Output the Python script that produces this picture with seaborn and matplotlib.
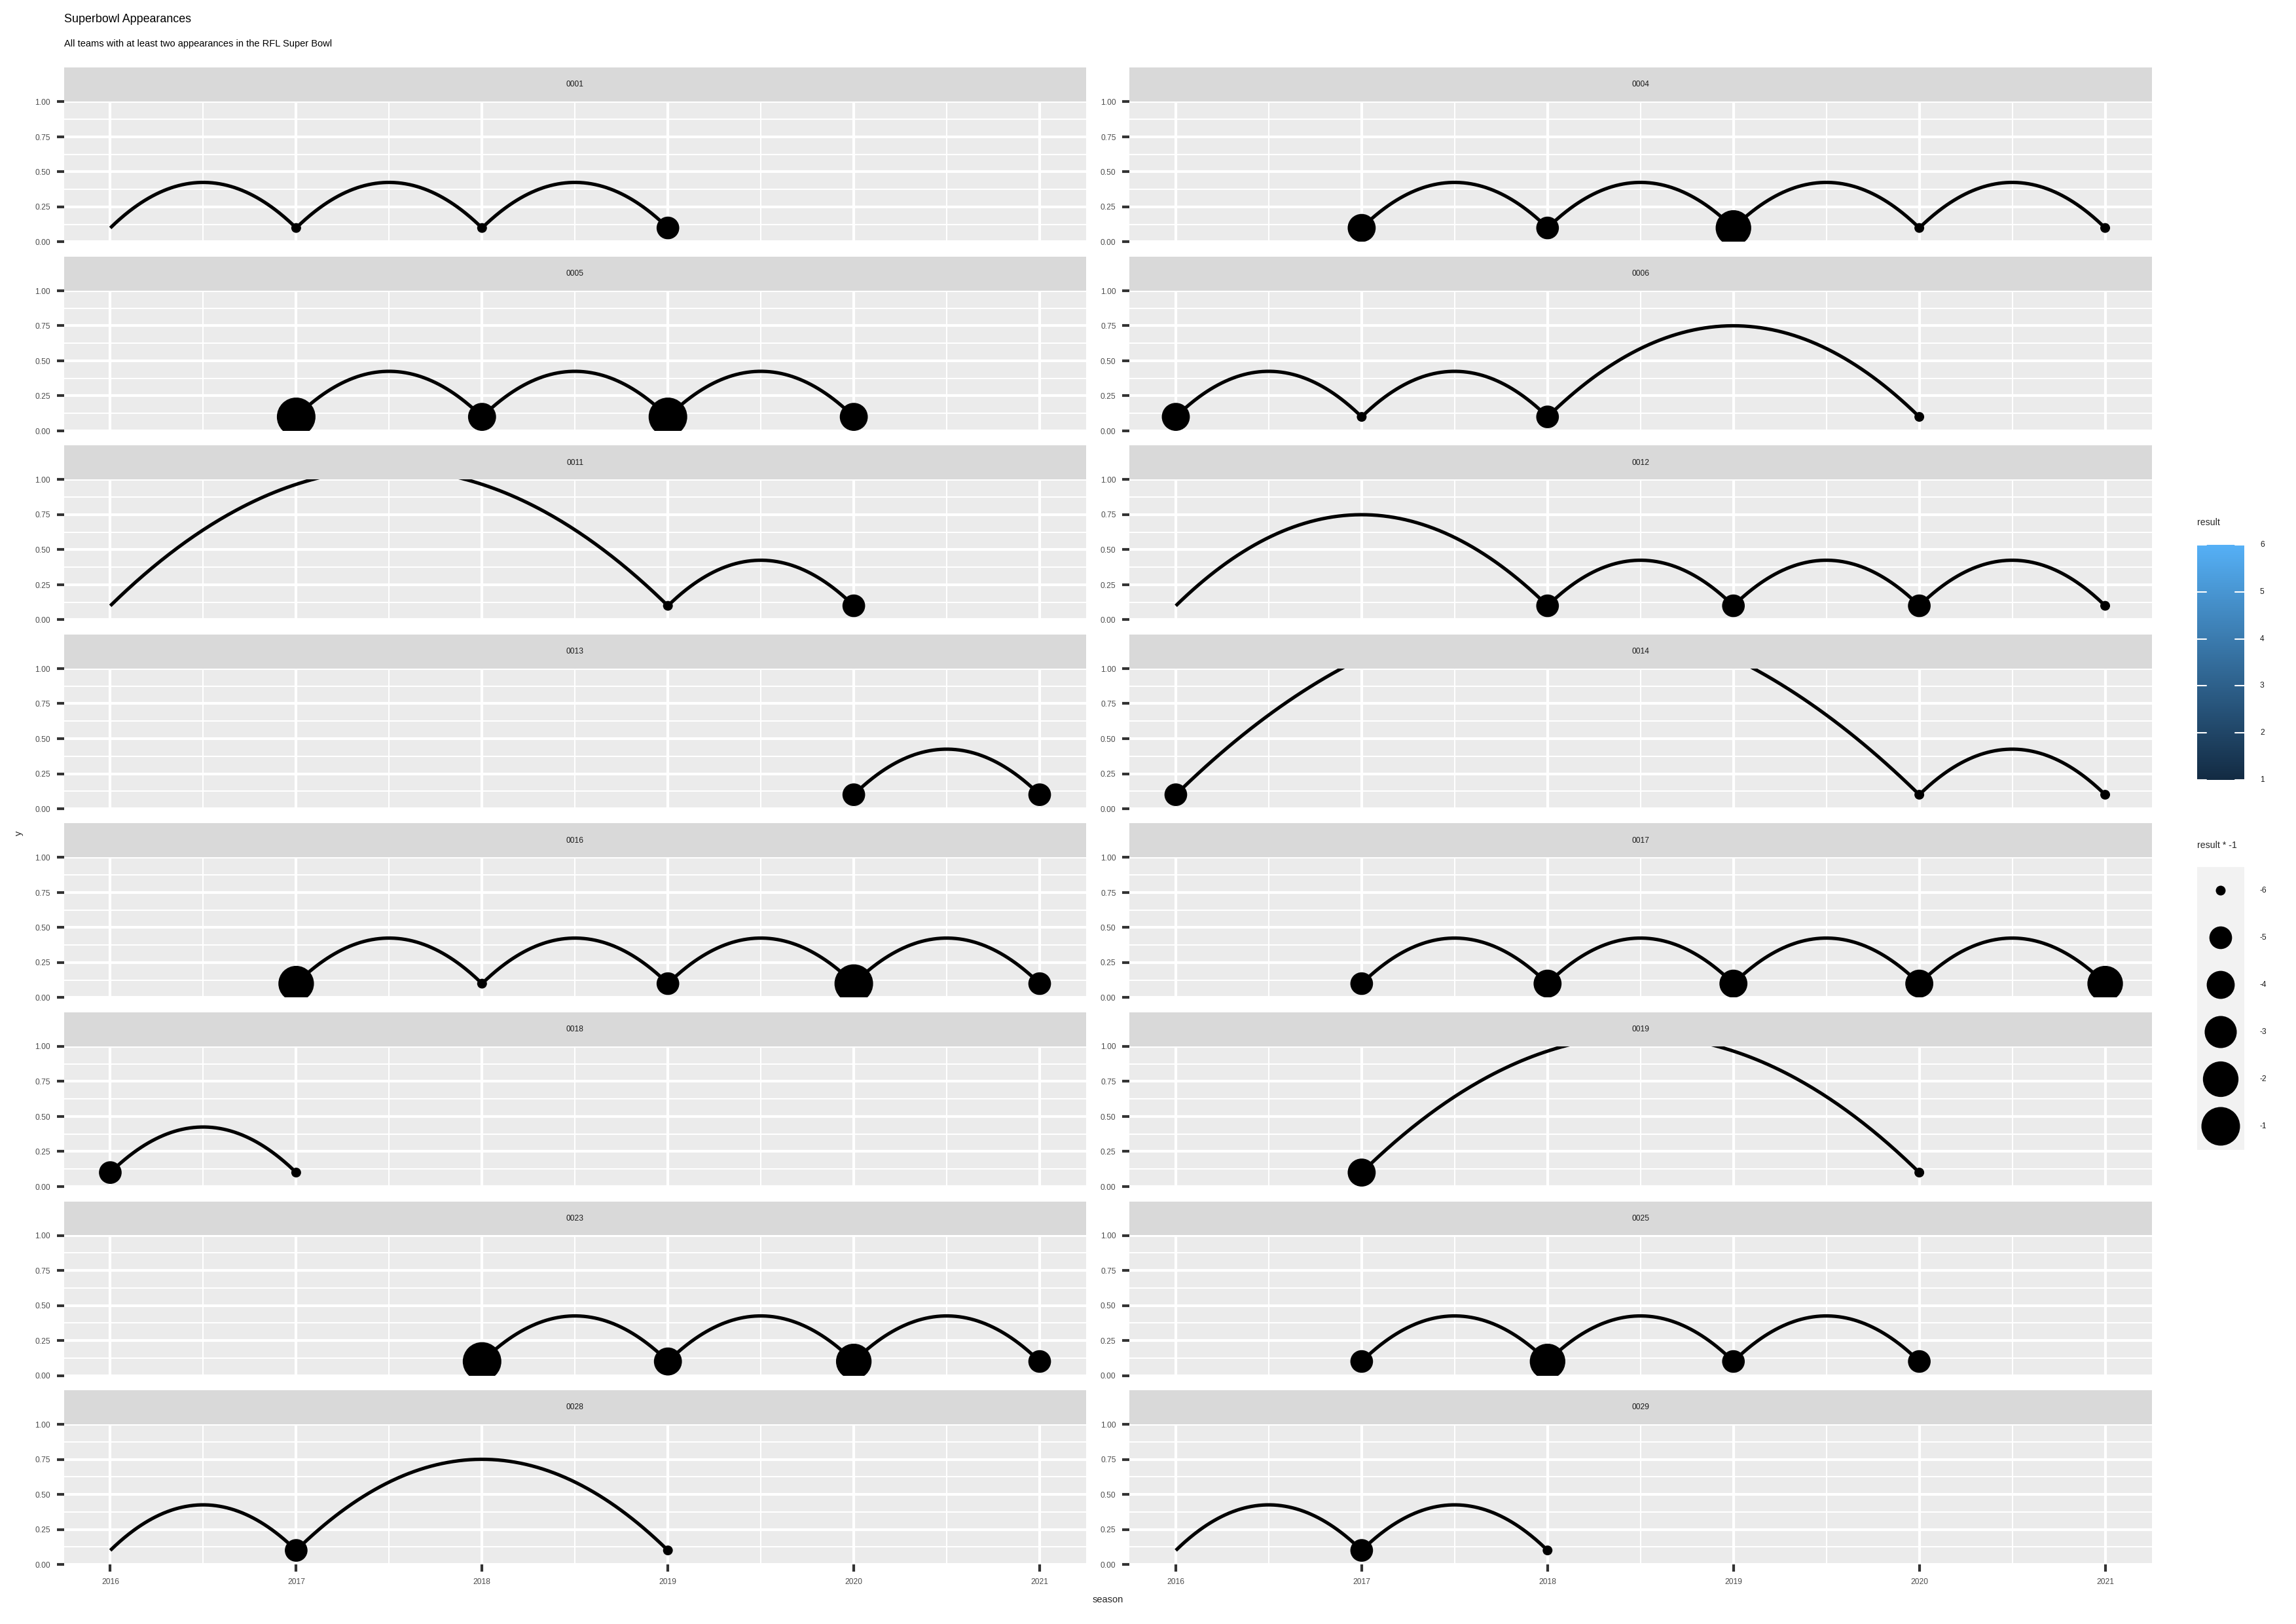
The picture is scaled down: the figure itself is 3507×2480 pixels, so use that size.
import numpy as np
import pandas as pd
import matplotlib
matplotlib.use("Agg")
import matplotlib.pyplot as plt
import seaborn as sns
from matplotlib.colors import LinearSegmentedColormap

# ---------------- data ----------------
team_ids = ["0001", "0004", "0005", "0006", "0011", "0012", "0013", "0014",
            "0016", "0017", "0018", "0019", "0023", "0025", "0028", "0029"]
team_seasons = [
    [2016, 2017, 2018, 2019],
    [2017, 2018, 2019, 2020, 2021],
    [2017, 2018, 2019, 2020],
    [2016, 2017, 2018, 2020],
    [2016, 2019, 2020],
    [2016, 2018, 2019, 2020, 2021],
    [2020, 2021],
    [2016, 2020, 2021],
    [2017, 2018, 2019, 2020, 2021],
    [2017, 2018, 2019, 2020, 2021],
    [2016, 2017],
    [2017, 2020],
    [2018, 2019, 2020, 2021],
    [2017, 2018, 2019, 2020],
    [2016, 2017, 2019],
    [2016, 2017, 2018],
]
# NaN = no point drawn (value outside the size scale)
team_results = [
    [np.nan, 6, 6, 5],
    [4, 5, 2, 6, 6],
    [1, 4, 1, 4],
    [4, 6, 5, 6],
    [np.nan, 6, 5],
    [np.nan, 5, 5, 5, 6],
    [5, 5],
    [5, 6, 6],
    [2, 6, 5, 1, 5],
    [5, 4, 4, 4, 2],
    [5, 6],
    [4, 6],
    [1, 4, 2, 5],
    [5, 2, 5, 5],
    [np.nan, 5, 6],
    [np.nan, 5, 6],
]
baseline_y = 0.1
season_ticks = [2016, 2017, 2018, 2019, 2020, 2021]
y_ticks = [0.0, 0.25, 0.5, 0.75, 1.0]
y_tick_labels = ["0.00", "0.25", "0.50", "0.75", "1.00"]
size_levels = [-6, -5, -4, -3, -2, -1]
result_levels = [1, 2, 3, 4, 5, 6]

title = "Superbowl Appearances"
subtitle = "All teams with at least two appearances in the RFL Super Bowl"

rows = []
for t, ss, rr in zip(team_ids, team_seasons, team_results):
    for s, r in zip(ss, rr):
        rows.append({"team": t, "season": s, "result": r, "y": baseline_y})
df = pd.DataFrame(rows)
df["neg"] = df["result"] * -1

# ---------------- style ----------------
sns.set_theme(style="darkgrid")
plt.rcParams["font.family"] = ["Liberation Sans", "DejaVu Sans"]

W, H = 3507, 2480
DPI = 300
fig = plt.figure(figsize=(W / DPI, H / DPI), dpi=DPI, facecolor="white")


def px_axes(x0, y0, w, h):
    return fig.add_axes([x0 / W, 1 - (y0 + h) / H, w / W, h / H])


def diam_px(v):
    # ggplot-like area size scale: range 1..6
    return 8.8 * (1 + 5 * np.sqrt((v + 6) / 5.0) + 0.7)


size_map = {v: (diam_px(v) * 72 / DPI) ** 2 for v in size_levels}

arc_rise_per_year = 0.325
col_x = [97.5, 1725]
col_w = 1561.5
strip_h = 52
panel_h = 214
row_pitch = 288.5
first_top = 103.5

tick_col = "#333333"
lab_col = "#4D4D4D"

for i, t in enumerate(team_ids):
    r, c = divmod(i, 2)
    top = first_top + r * row_pitch
    # strip
    sax = px_axes(col_x[c], top, col_w, strip_h)
    sax.set_facecolor("#D9D9D9")
    sax.set_xticks([]); sax.set_yticks([])
    for sp in sax.spines.values():
        sp.set_visible(False)
    sax.grid(False)
    sax.text(0.5, 0.5, t, ha="center", va="center", fontsize=2.9,
             color="#1A1A1A", transform=sax.transAxes)

    ax = px_axes(col_x[c], top + strip_h, col_w, panel_h)
    ax.set_facecolor("#EBEBEB")
    sub = df[df["team"] == t].sort_values("season")
    ss = sub["season"].to_numpy()
    for s0, s1 in zip(ss[:-1], ss[1:]):
        gap = s1 - s0
        xs = np.linspace(s0, s1, 200)
        tt = (xs - (s0 + s1) / 2) / (gap / 2)
        ys = baseline_y + arc_rise_per_year * gap * (1 - tt ** 2)
        ax.plot(xs, ys, color="black", lw=1.25, solid_capstyle="butt", zorder=3)
    pts = sub.dropna(subset=["result"])
    sns.scatterplot(data=pts, x="season", y="y", size="neg", sizes=size_map,
                    color="black", linewidth=0, legend=False, ax=ax, zorder=4)
    ax.set_xlabel(""); ax.set_ylabel("")
    ax.set_xticks(season_ticks)
    ax.set_xticks([2016.5 + k for k in range(5)], minor=True)
    ax.set_yticks(y_ticks)
    ax.set_yticks([0.125, 0.375, 0.625, 0.875], minor=True)
    ax.set_yticklabels(y_tick_labels)
    ax.set_xlim(2015.75, 2021.25)
    ax.set_ylim(0, 1)
    ax.grid(True, which="major", color="white", lw=1.0)
    ax.grid(True, which="minor", color="white", lw=0.5)
    ax.set_axisbelow(True)
    for sp in ax.spines.values():
        sp.set_visible(False)
    ax.tick_params(axis="y", which="major", left=True, length=2.7, width=1.0,
                   color=tick_col, labelsize=2.9, labelcolor=lab_col, pad=2.2)
    ax.tick_params(axis="both", which="minor", length=0)
    if r == 7:
        ax.tick_params(axis="x", which="major", bottom=True, length=2.7, width=1.0,
                       color=tick_col, labelsize=2.9, labelcolor=lab_col, pad=2.3)
    else:
        ax.tick_params(axis="x", which="major", bottom=False, labelbottom=False)

# titles and axis labels
fig.text(98 / W, 1 - 29 / H, title, fontsize=4.3, ha="left", va="center", color="black")
fig.text(98 / W, 1 - 67 / H, subtitle, fontsize=3.5, ha="left", va="center", color="black")
fig.text(1692 / W, 1 - 2443 / H, "season", fontsize=3.5, ha="center", va="center")
fig.text(29 / W, 1 - 1272 / H, "y", fontsize=3.5, ha="center", va="center", rotation=90)

# colour bar legend
cmap = LinearSegmentedColormap.from_list("gg", ["#132B43", "#56B1F7"])
cax = px_axes(3356, 832, 72, 359)
grad = np.linspace(result_levels[0], result_levels[-1], 256).reshape(-1, 1)
cax.imshow(grad, aspect="auto", cmap=cmap, origin="lower",
           extent=[0, 1, result_levels[0], result_levels[-1]])
cax.set_xlim(0, 1); cax.set_ylim(result_levels[0], result_levels[-1])
cax.grid(False)
for sp in cax.spines.values():
    sp.set_visible(False)
cax.set_xticks([]); cax.set_yticks([])
for v in result_levels:
    cax.plot([0, 0.2], [v, v], color="white", lw=0.5)
    cax.plot([0.8, 1], [v, v], color="white", lw=0.5)
    yy = 832 + 359 * (result_levels[-1] - v) / (result_levels[-1] - result_levels[0])
    fig.text(3452 / W, 1 - yy / H, str(v), fontsize=2.9, ha="left", va="center",
             color="#1A1A1A")
fig.text(3356 / W, 1 - 798 / H, "result", fontsize=3.4, ha="left", va="center")

# size legend
fig.text(3356 / W, 1 - 1291 / H, "result * -1", fontsize=3.4, ha="left", va="center")
kax = px_axes(3356, 1324, 72, 432)
kax.set_facecolor("#F2F2F2")
kax.grid(False)
for sp in kax.spines.values():
    sp.set_visible(False)
leg_df = pd.DataFrame({"x": 0.5, "pos": np.arange(len(size_levels)) + 0.5,
                       "neg": size_levels})
sns.scatterplot(data=leg_df, x="x", y="pos", size="neg", sizes=size_map,
                color="black", linewidth=0, legend=False, ax=kax)
kax.set_xlabel(""); kax.set_ylabel("")
kax.set_xticks([]); kax.set_yticks([])
kax.set_xlim(0, 1); kax.set_ylim(len(size_levels), 0)
for k, v in enumerate(size_levels):
    yy = 1324 + 72 * (k + 0.5)
    fig.text(3452 / W, 1 - yy / H, str(v), fontsize=2.9, ha="left", va="center",
             color="#1A1A1A")

fig.savefig("out.png", dpi=DPI, facecolor="white")
